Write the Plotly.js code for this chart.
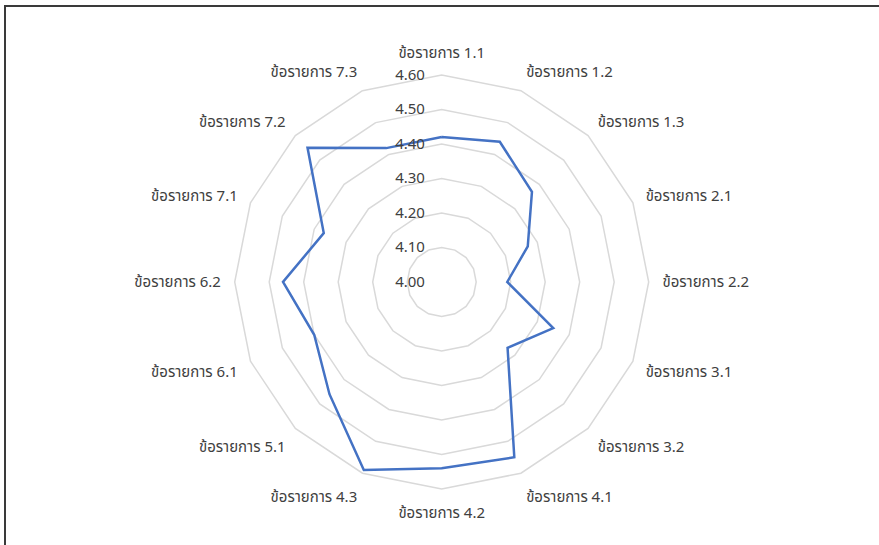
<!DOCTYPE html>
<html>
<head>
<meta charset="utf-8">
<script src="https://cdn.plot.ly/plotly-3.0.1.min.js"></script>
<style>
html,body{margin:0;padding:0;background:#fff;}
#wrap{position:relative;width:879px;height:545px;overflow:hidden;}
#chart{position:absolute;left:0;top:0;width:879px;height:545px;}
#frame{position:absolute;left:4px;top:5px;width:900px;height:600px;border-top:2px solid #3a3a3a;border-left:2px solid #3a3a3a;pointer-events:none;}
</style>
</head>
<body>
<div id="wrap"><div id="chart"></div><div id="frame"></div></div>
<script>
const categories = ["ข้อรายการ 1.1","ข้อรายการ 1.2","ข้อรายการ 1.3","ข้อรายการ 2.1","ข้อรายการ 2.2","ข้อรายการ 3.1","ข้อรายการ 3.2","ข้อรายการ 4.1","ข้อรายการ 4.2","ข้อรายการ 4.3","ข้อรายการ 5.1","ข้อรายการ 6.1","ข้อรายการ 6.2","ข้อรายการ 7.1","ข้อรายการ 7.2","ข้อรายการ 7.3"];
const scores = [4.42,4.44,4.37,4.27,4.19,4.35,4.27,4.55,4.54,4.59,4.46,4.40,4.46,4.37,4.55,4.42];
const radialTicks = [4.0,4.1,4.2,4.3,4.4,4.5,4.6];
const radialTickText = ["4.00","4.10","4.20","4.30","4.40","4.50","4.60"];

const theta = categories.concat([categories[0]]);
const r = scores.concat([scores[0]]);

const fontFam = "Tahoma, 'Noto Sans Thai', 'Noto Sans', sans-serif";
Plotly.newPlot('chart', [{
  type: 'scatterpolar',
  mode: 'lines',
  theta: theta,
  r: r,
  line: {color: '#4472C4', width: 2.5},
  hoverinfo: 'skip'
}], {
  width: 879, height: 545,
  margin: {l:0, r:0, t:0, b:0},
  paper_bgcolor: '#fff',
  showlegend: false,
  font: {family: fontFam, size: 15, color: '#404040'},
  polar: {
    domain: {x:[0.2670,0.7380], y:[0.1028,0.8624]},
    bgcolor: 'rgba(0,0,0,0)',
    gridshape: 'linear',
    radialaxis: {
      range: [4.0, 4.6],
      tickvals: radialTicks,
      ticktext: radialTickText,
      angle: 90,
      tickangle: 90,
      side: 'counterclockwise',
      showline: false,
      showgrid: true,
      gridcolor: '#d9d9d9',
      gridwidth: 1.5,
      ticks: 'outside',
      ticklen: 11,
      tickcolor: 'rgba(0,0,0,0)',
      tickfont: {size: 15, color: '#404040'}
    },
    angularaxis: {
      rotation: 90,
      direction: 'clockwise',
      showgrid: false,
      showline: true,
      linecolor: '#d9d9d9',
      linewidth: 1.5,
      ticks: 'outside',
      ticklen: 10,
      tickcolor: 'rgba(0,0,0,0)',
      tickfont: {size: 15, color: '#404040'}
    }
  }
}, {staticPlot: true});
</script>
</body>
</html>
